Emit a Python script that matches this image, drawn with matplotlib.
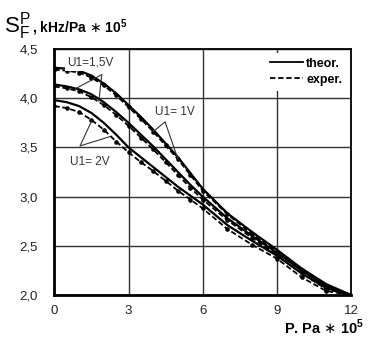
import matplotlib
matplotlib.use('Agg')
import matplotlib.pyplot as plt

plt.rcParams['font.family'] = ['Liberation Sans', 'DejaVu Sans']

# pressure, Pa * 1e5
P = [0, 0.5, 1, 1.5, 2, 2.5, 3, 3.5, 4, 4.5, 5, 5.5, 6, 7, 8, 9, 10, 11, 12]

# sensitivity S_F^P, kHz/Pa * 1e5
s_1v_theor = [4.31, 4.30, 4.28, 4.23, 4.15, 4.05, 3.93, 3.81, 3.68, 3.54, 3.40,
              3.24, 3.08, 2.83, 2.64, 2.46, 2.27, 2.11, 2.00]
s_1v_exper = [4.29, 4.28, 4.26, 4.21, 4.13, 4.03, 3.91, 3.79, 3.66, 3.52, 3.38,
              3.22, 3.06, 2.82, 2.62, 2.44, 2.25, 2.08, 2.00]
s_15v_theor = [4.14, 4.12, 4.09, 4.04, 3.96, 3.86, 3.75, 3.63, 3.51, 3.38, 3.25,
               3.12, 3.00, 2.78, 2.60, 2.43, 2.25, 2.09, 2.00]
s_15v_exper = [4.12, 4.10, 4.07, 4.01, 3.93, 3.83, 3.72, 3.60, 3.48, 3.35, 3.22,
               3.09, 2.97, 2.76, 2.58, 2.41, 2.22, 2.06, 2.00]
s_2v_theor = [3.98, 3.96, 3.92, 3.85, 3.75, 3.63, 3.50, 3.40, 3.30, 3.20, 3.10,
              3.01, 2.92, 2.71, 2.55, 2.40, 2.22, 2.07, 2.00]
s_2v_exper = [3.92, 3.90, 3.86, 3.78, 3.68, 3.56, 3.45, 3.35, 3.26, 3.16, 3.06,
              2.97, 2.88, 2.67, 2.51, 2.37, 2.18, 2.04, 2.00]

x_ticks = [0, 3, 6, 9, 12]
y_ticks = [2.0, 2.5, 3.0, 3.5, 4.0, 4.5]
y_labels = ['2,0', '2,5', '3,0', '3,5', '4,0', '4,5']

fig = plt.figure(figsize=(3.68, 3.38), dpi=100)
ax = fig.add_axes([0.1476, 0.1272, 0.8064, 0.7278])

for th, ex in [(s_1v_theor, s_1v_exper), (s_15v_theor, s_15v_exper),
               (s_2v_theor, s_2v_exper)]:
    ax.plot(P, th, color='black', lw=1.6, solid_capstyle='round')
    ax.plot(P, ex, color='black', lw=1.3, ls=(0, (3, 1.5)),
            marker='o', ms=2.3, markevery=1)

ax.set_xlim(0, 12)
ax.set_ylim(2.0, 4.5)
ax.set_xticks(x_ticks)
ax.set_yticks(y_ticks)
ax.set_yticklabels(y_labels)
ax.tick_params(length=0, labelsize=9.5, labelcolor='#222222')
ax.tick_params(axis='y', pad=12)
ax.tick_params(axis='x', pad=7)
ax.grid(True, color='#333333', lw=1.0)
ax.set_axisbelow(True)
for side in ['left', 'bottom']:
    ax.spines[side].set_linewidth(2.0)
for side in ['top', 'right']:
    ax.spines[side].set_linewidth(1.3)

# legend
h1, = ax.plot([], [], color='black', lw=1.3)
h2, = ax.plot([], [], color='black', lw=1.3, ls=(0, (3, 1.5)))
leg = ax.legend([h1, h2], ['theor.', 'exper.'], loc='upper right',
                handlelength=2.6, handletextpad=0.3, labelspacing=0.3,
                borderaxespad=0.3, frameon=True, fancybox=False,
                prop={'weight': 'bold', 'size': 9})
leg.get_frame().set_edgecolor('none')
leg.get_frame().set_facecolor('white')
leg.get_frame().set_alpha(1.0)

# curve labels with leader lines
box = dict(boxstyle='square,pad=0.15', fc='white', ec='none')
ax.text(1.44, 4.36, 'U1=1,5V', ha='center', va='center', fontsize=8.5,
        color='#333333', bbox=box)
ax.plot([0.88, 1.92, 1.80], [4.10, 4.24, 3.97], color='#333333', lw=0.8)
ax.text(4.88, 3.86, 'U1= 1V', ha='center', va='center', fontsize=8.5,
        color='#333333', bbox=box)
ax.plot([4.0, 4.48, 5.0], [3.66, 3.76, 3.38], color='#333333', lw=0.8)
ax.text(1.44, 3.35, 'U1= 2V', ha='center', va='center', fontsize=8.5,
        color='#333333', bbox=box)
ax.plot([1.51, 1.04, 2.25], [3.77, 3.515, 3.61], color='#333333', lw=0.8)

# axis titles
fig.text(0.012, 0.905, r'$\mathregular{S_F^P}$', fontsize=16, va='baseline')
fig.text(0.088, 0.905, r', kHz/Pa $\ast$ 10$^{\mathregular{5}}$', fontsize=10,
         weight='bold', va='baseline')
fig.text(0.99, 0.012, r'P. Pa $\ast$ 10$^{\mathregular{5}}$', fontsize=10.5,
         weight='bold', ha='right', va='baseline')

fig.savefig('out.png', dpi=100)
